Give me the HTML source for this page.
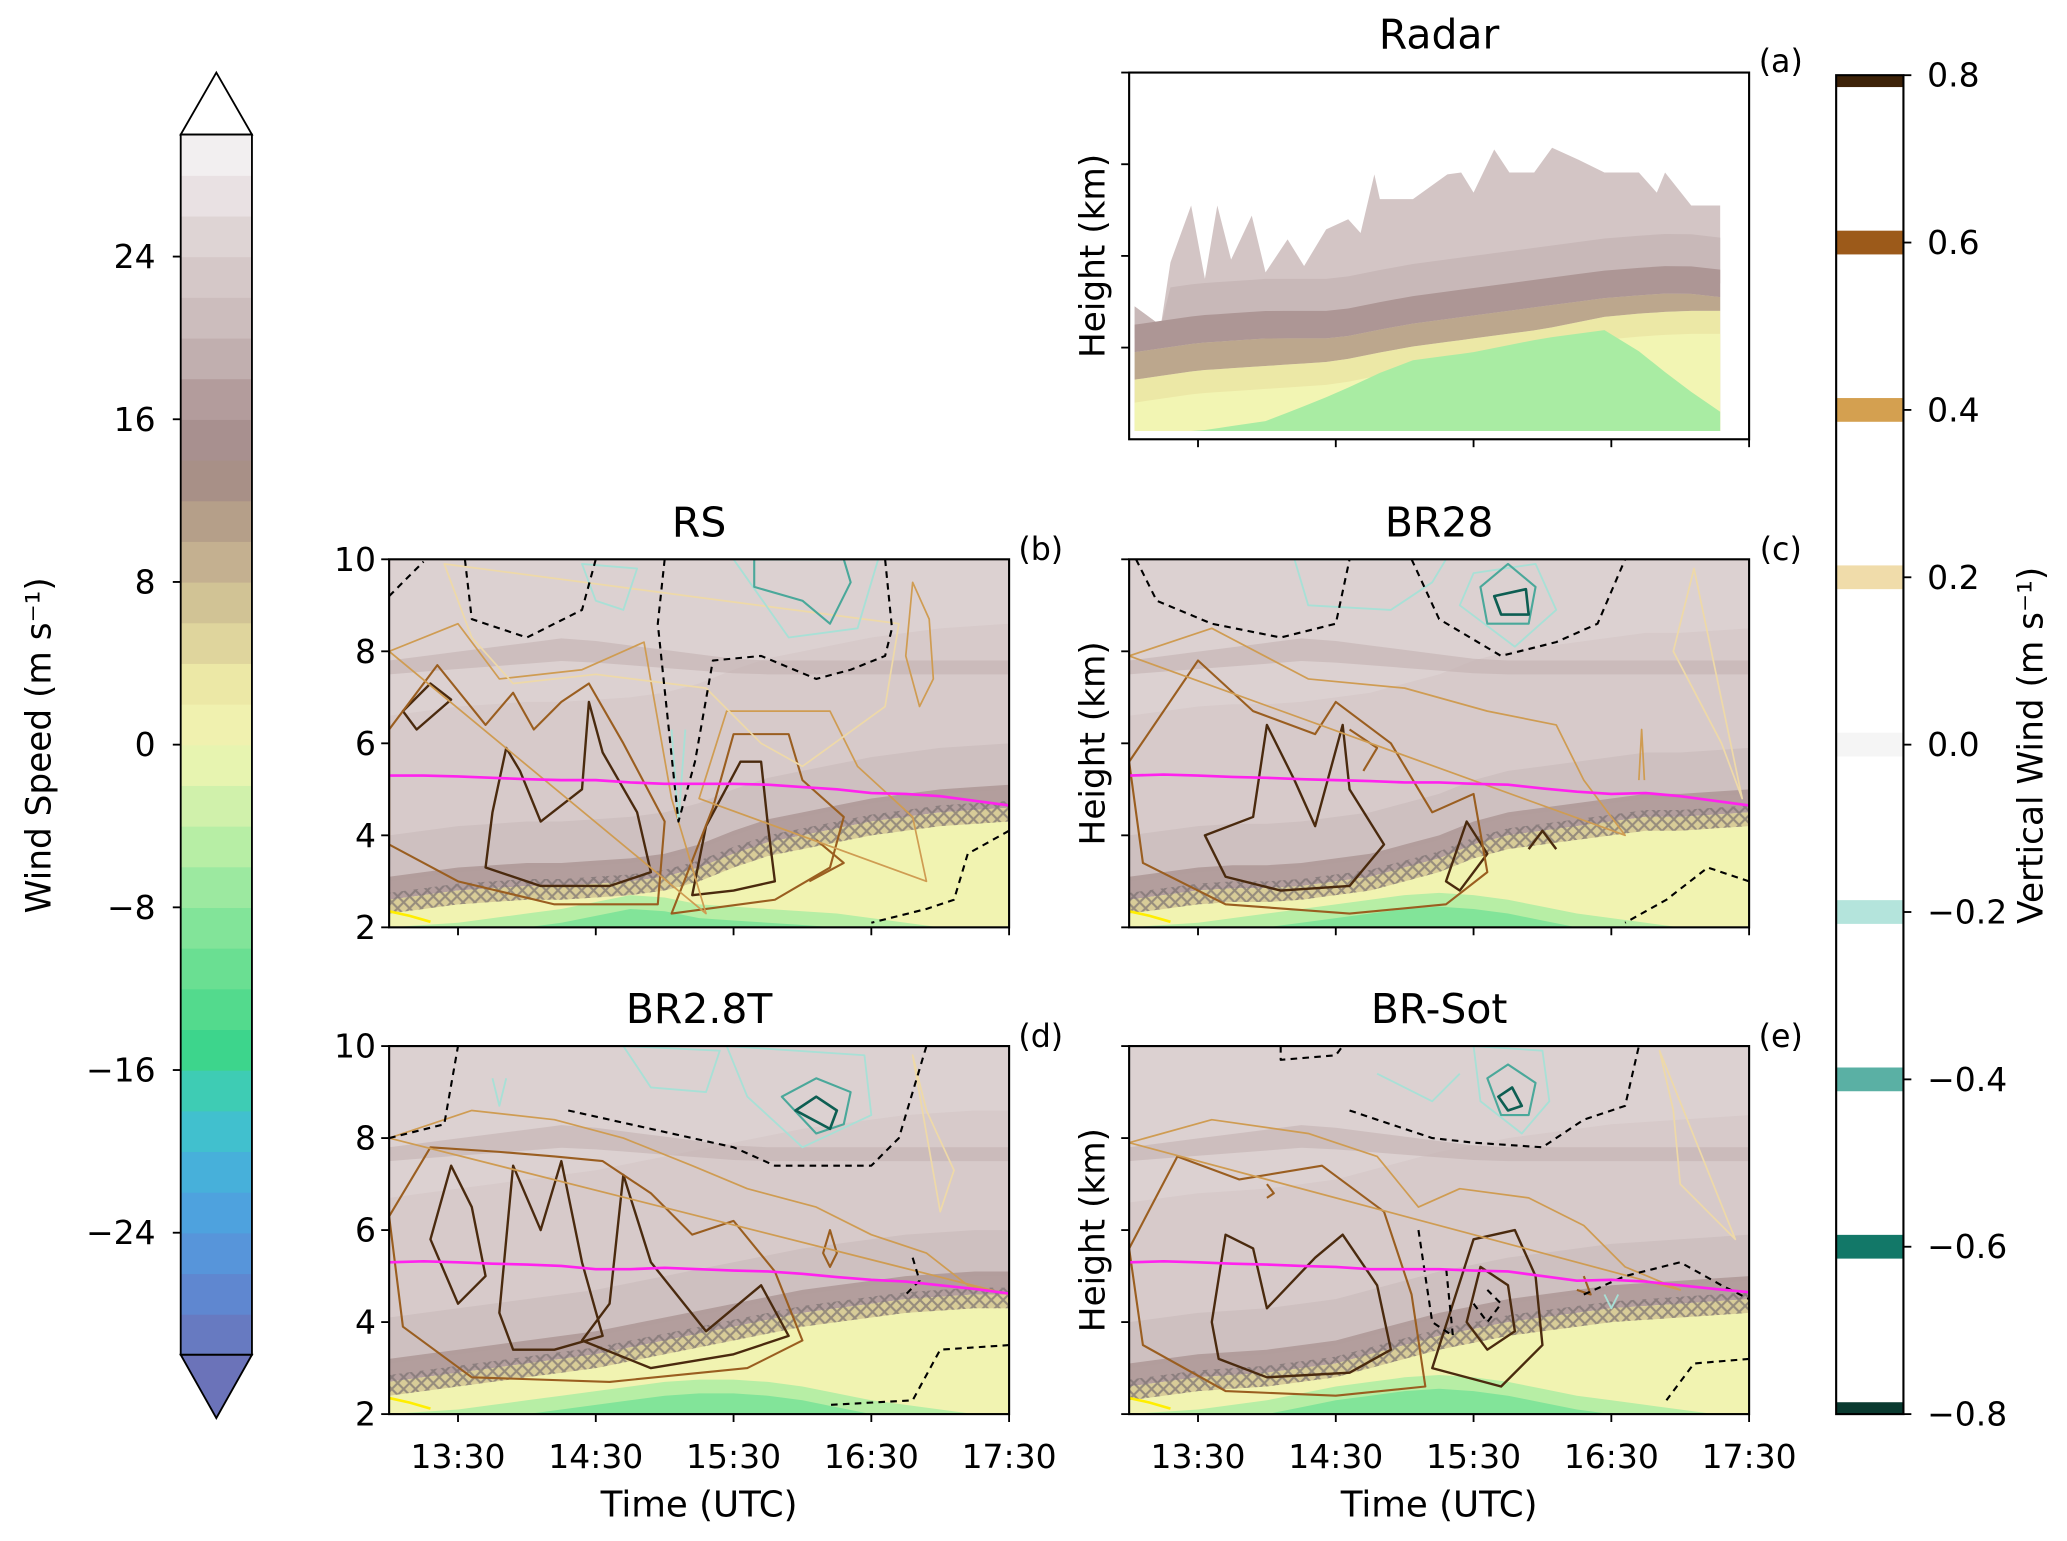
<!DOCTYPE html>
<html><head><meta charset="utf-8"><style>
html,body{margin:0;padding:0;background:#fff;}
svg{display:block;font-family:"DejaVu Sans","Liberation Sans",sans-serif;}
</style></head><body>
<svg id="fig" width="2067" height="1541" viewBox="0 0 1567 1168.2" preserveAspectRatio="none" xmlns="http://www.w3.org/2000/svg">
<defs>
<pattern id="xhatch" width="9" height="9" patternUnits="userSpaceOnUse">
<path d="M0,0 L9,9 M9,0 L0,9" stroke="#7a7070" stroke-width="1.6" opacity="0.7"/>
</pattern>
</defs>
</svg>
<script>
// ---------- data ----------
const times = [13,13.25,13.5,13.75,14,14.25,14.5,14.75,15,15.25,15.5,15.75,16,16.25,16.5,16.75,17,17.25,17.5];
const meltB = [2.6,2.7,2.8,2.85,2.9,2.9,2.95,3.0,3.1,3.3,3.6,3.85,4.0,4.15,4.3,4.4,4.5,4.55,4.6];
const meltC = [2.6,2.7,2.8,2.85,2.85,2.9,3.0,3.1,3.3,3.5,3.8,4.0,4.1,4.2,4.3,4.4,4.4,4.45,4.5];
const meltD = [2.7,2.8,2.9,3.0,3.1,3.2,3.3,3.45,3.6,3.75,3.9,4.05,4.2,4.3,4.4,4.5,4.55,4.6,4.6];
const meltE = [2.6,2.7,2.8,2.85,2.9,3.0,3.1,3.3,3.5,3.7,3.85,4.0,4.1,4.2,4.3,4.35,4.4,4.45,4.5];
const greenB = [2.0,2.05,2.1,2.2,2.3,2.4,2.55,2.7,2.65,2.5,2.45,2.4,2.35,2.3,2.2,2.1,2.0,2.0,2.0];
const greenC = [2.0,2.05,2.1,2.2,2.3,2.4,2.5,2.6,2.7,2.75,2.7,2.6,2.45,2.3,2.2,2.1,2.0,2.0,2.0];
const greenD = [2.0,2.05,2.1,2.2,2.3,2.4,2.5,2.6,2.7,2.75,2.75,2.7,2.6,2.45,2.3,2.2,2.1,2.0,2.0];
const greenE = [2.0,2.05,2.1,2.2,2.3,2.45,2.6,2.7,2.8,2.85,2.8,2.7,2.55,2.4,2.3,2.2,2.1,2.0,2.0];
const magB = [5.3,5.3,5.28,5.25,5.22,5.2,5.2,5.15,5.12,5.12,5.12,5.1,5.05,5.0,4.92,4.9,4.85,4.75,4.65];
const magC = [5.3,5.32,5.3,5.27,5.25,5.22,5.2,5.18,5.15,5.15,5.12,5.1,5.02,4.95,4.9,4.92,4.85,4.75,4.65];
const magD = [5.3,5.32,5.3,5.27,5.25,5.22,5.15,5.15,5.18,5.15,5.12,5.1,5.05,4.98,4.92,4.88,4.8,4.72,4.62];
const magE = [5.3,5.32,5.3,5.27,5.25,5.22,5.2,5.15,5.15,5.15,5.12,5.1,5.0,4.9,4.92,4.88,4.8,4.72,4.65];
const yellowLineT = [13.0,13.15,13.3];
const yellowLineH = [2.35,2.25,2.12];

const radarTimes = [13.04,13.23,13.3,13.45,13.55,13.64,13.74,13.89,13.99,14.15,14.27,14.43,14.59,14.68,14.78,14.82,15.06,15.31,15.41,15.5,15.65,15.76,15.94,16.07,16.26,16.45,16.7,16.83,16.89,17.08,17.29];
const echoTop = [1.45,1.24,1.93,2.55,1.75,2.55,1.96,2.44,1.82,2.18,1.89,2.29,2.4,2.25,2.89,2.62,2.62,2.89,2.91,2.69,3.16,2.91,2.91,3.18,3.05,2.91,2.91,2.69,2.91,2.55,2.55];
const radarBase = [13.04,13.5,14,14.5,15,15.5,16,16.5,17,17.29];
const radarBrown = [1.1,1.2,1.25,1.25,1.4,1.5,1.6,1.7,1.75,1.7];
const radarYellow = [0.65,0.75,0.8,0.85,1.0,1.1,1.2,1.35,1.4,1.4];
const radarGreen = [0.09,0.09,0.2,0.5,0.85,0.95,1.1,1.2,0.6,0.3];

const xTickVals = [13.5,14.5,15.5,16.5,17.5];
const xTickLabels = ["13:30","14:30","15:30","16:30","17:30"];
const yTickVals = [2,4,6,8,10];
const yTickLabels = ["2","4","6","8","10"];
const wsTickVals = [24,16,8,0,-8,-16,-24];
const wsTickLabels = ["24","16","8","0","\u22128","\u221216","\u221224"];
const vwTickVals = [0.8,0.6,0.4,0.2,0.0,-0.2,-0.4,-0.6,-0.8];
const vwTickLabels = ["0.8","0.6","0.4","0.2","0.0","\u22120.2","\u22120.4","\u22120.6","\u22120.8"];

// contours: [t,h] pairs
const contoursB = [
 {c:"dk",p:[[13.1,6.7],[13.3,7.3],[13.45,6.95],[13.2,6.3]]},
 {c:"dk",p:[[13.75,4.5],[13.85,5.9],[13.95,5.4],[14.1,4.3],[14.4,5.0],[14.45,6.9],[14.55,5.8],[14.8,4.5],[14.9,3.2],[14.6,2.9],[14.1,2.9],[13.7,3.3]]},
 {c:"dk",p:[[15.2,2.7],[15.3,4.2],[15.55,5.6],[15.7,5.6],[15.75,4.2],[15.8,3.0],[15.5,2.8]]},
 {c:"md",p:[[13.0,6.3],[13.35,7.7],[13.7,6.4],[13.9,7.1],[14.05,6.3],[14.25,6.9],[14.45,7.3],[14.7,6.0],[15.0,4.3],[14.95,2.5],[14.2,2.5],[13.5,3.0],[13.0,3.8]]},
 {c:"md",p:[[15.05,2.3],[15.35,4.6],[15.5,6.2],[15.9,6.2],[16.0,5.2],[16.3,4.4],[16.2,3.3],[15.8,2.6]]},
 {c:"md",p:[[16.1,3.9],[16.3,3.4],[16.05,3.0]]},
 {c:"lt",p:[[13.0,8.0],[13.5,8.6],[13.8,7.4],[14.4,7.6],[14.85,8.2],[15.05,4.8],[15.3,2.3]]},
 {c:"lt",p:[[15.25,4.8],[15.45,6.7],[16.2,6.7],[16.4,5.5],[16.8,4.4],[16.9,3.0]]},
 {c:"lt",p:[[16.8,9.5],[16.92,8.7],[16.95,7.4],[16.85,6.8],[16.75,7.9]]},
 {c:"xl",p:[[13.4,9.9],[13.6,8.3],[13.9,7.3],[14.5,7.5],[15.3,7.2],[15.7,6.0],[16.0,5.5],[16.6,6.8],[16.7,8.6]]},
 {c:"tl",p:[[14.4,9.9],[14.5,9.1],[14.7,8.9],[14.8,9.8]]},
 {c:"tl",p:[[15.5,10],[15.9,8.3],[16.4,8.5],[16.55,10]]},
 {c:"tm",p:[[15.65,10],[15.65,9.4],[16.0,9.1],[16.2,8.6],[16.35,9.5],[16.3,10]]},
 {c:"tl",p:[[15.05,6.3],[15.1,4.3],[15.15,6.3]]},
 {c:"da",p:[[13.0,9.2],[13.25,9.95]]},
 {c:"da",p:[[13.55,10],[13.6,8.7],[14.0,8.3],[14.4,8.9],[14.5,10]]},
 {c:"da",p:[[15.0,10],[14.95,8.6],[15.1,4.3],[15.22,5.6],[15.35,7.8],[15.7,7.9],[16.1,7.4],[16.35,7.6],[16.6,7.9],[16.65,8.5],[16.6,10]]},
 {c:"da",p:[[17.5,4.1],[17.2,3.6],[17.1,2.6],[16.9,2.4],[16.5,2.1]]}
];
const contoursC = [
 {c:"dk",p:[[13.9,4.4],[14.0,6.4],[14.2,5.2],[14.35,4.2],[14.55,6.4],[14.6,5.0],[14.85,3.8],[14.6,2.9],[14.1,2.8],[13.7,3.1],[13.55,4.0]]},
 {c:"dk",p:[[15.3,3.0],[15.45,4.3],[15.6,3.6],[15.4,2.8]]},
 {c:"dk",p:[[15.9,3.7],[16.0,4.1],[16.1,3.7]]},
 {c:"md",p:[[13.0,5.6],[13.5,7.8],[13.9,6.7],[14.35,6.2],[14.5,6.9],[14.9,6.0],[15.2,4.5],[15.5,4.9],[15.6,3.2],[15.3,2.5],[14.6,2.3],[13.7,2.5],[13.1,3.4]]},
 {c:"md",p:[[14.6,6.3],[14.8,5.9],[14.7,5.4]]},
 {c:"lt",p:[[13.0,7.9],[13.6,8.5],[14.3,7.4],[15.0,7.2],[15.6,6.7],[16.1,6.4],[16.3,5.2],[16.6,4.0]]},
 {c:"lt",p:[[16.7,5.2],[16.72,6.3],[16.74,5.2]]},
 {c:"xl",p:[[17.1,9.8],[16.95,8.0],[17.3,6.0],[17.45,4.8]]},
 {c:"tl",p:[[15.5,9.7],[15.4,9.0],[15.8,8.1],[16.1,8.9],[15.95,9.9]]},
 {c:"tl",p:[[14.2,10],[14.3,9.0],[14.9,8.9],[15.2,9.5],[15.3,10]]},
 {c:"tm",p:[[15.55,9.4],[15.6,8.6],[15.9,8.6],[15.95,9.4],[15.75,9.9]]},
 {c:"td",p:[[15.65,9.2],[15.7,8.8],[15.9,8.8],[15.88,9.35]]},
 {c:"da",p:[[13.05,10],[13.2,9.1],[13.6,8.6],[14.1,8.3],[14.5,8.6],[14.6,10]]},
 {c:"da",p:[[15.05,10],[15.25,8.7],[15.7,7.9],[16.1,8.2],[16.4,8.6],[16.6,10]]},
 {c:"da",p:[[17.5,3.0],[17.2,3.3],[16.9,2.6],[16.6,2.1]]}
];
const contoursD = [
 {c:"dk",p:[[13.3,5.8],[13.45,7.4],[13.6,6.5],[13.7,5.0],[13.5,4.4]]},
 {c:"dk",p:[[13.8,4.2],[13.9,7.4],[14.1,6.0],[14.25,7.5],[14.4,5.3],[14.55,3.7],[14.2,3.4],[13.9,3.4]]},
 {c:"dk",p:[[14.4,3.6],[14.6,4.4],[14.7,7.2],[14.9,5.3],[15.3,3.8],[15.7,4.8],[15.9,3.7],[15.5,3.3],[14.9,3.0]]},
 {c:"md",p:[[13.0,6.3],[13.3,7.8],[13.8,7.7],[14.2,7.6],[14.55,7.5],[14.9,6.8],[15.2,5.9],[15.5,6.2],[15.8,5.1],[16.0,3.6],[15.6,3.0],[14.6,2.7],[13.6,2.8],[13.1,3.9]]},
 {c:"md",p:[[16.2,6.0],[16.25,5.5],[16.2,5.2],[16.15,5.5]]},
 {c:"lt",p:[[13.0,8.0],[13.6,8.6],[14.2,8.4],[14.7,8.0],[15.2,7.4],[15.6,6.9],[16.1,6.5],[16.5,5.9],[16.9,5.5],[17.2,4.8],[17.5,4.6]]},
 {c:"xl",p:[[16.8,9.8],[16.9,8.6],[17.1,7.3],[17.0,6.4]]},
 {c:"tl",p:[[14.7,10],[14.9,9.1],[15.3,9.0],[15.4,9.9]]},
 {c:"tl",p:[[13.75,9.3],[13.8,8.7],[13.85,9.3]]},
 {c:"tm",p:[[15.85,8.9],[16.1,8.1],[16.3,8.3],[16.35,9.0],[16.1,9.3]]},
 {c:"td",p:[[15.95,8.6],[16.2,8.2],[16.25,8.6],[16.1,8.9]]},
 {c:"tl",p:[[15.45,10],[15.6,8.9],[16.0,7.8],[16.5,8.5],[16.45,9.8]]},
 {c:"da",p:[[13.0,8.0],[13.4,8.3],[13.5,10]]},
 {c:"da",p:[[14.3,8.6],[14.9,8.2],[15.5,7.8],[15.8,7.4],[16.1,7.4],[16.5,7.4],[16.7,8.0],[16.9,10]]},
 {c:"da",p:[[16.8,5.4],[16.85,4.9],[16.75,4.6]]},
 {c:"da",p:[[17.5,3.5],[17.0,3.4],[16.8,2.3],[16.2,2.2]]}
];
const contoursE = [
 {c:"dk",p:[[13.6,4.0],[13.7,5.9],[13.9,5.6],[14.0,4.3],[14.35,5.4],[14.55,5.9],[14.8,4.8],[14.9,3.4],[14.6,2.9],[14.0,2.8],[13.65,3.2]]},
 {c:"dk",p:[[15.45,4.0],[15.55,5.2],[15.75,4.8],[15.8,3.8],[15.6,3.4]]},
 {c:"dk",p:[[15.2,3.0],[15.5,5.8],[15.8,6.0],[15.95,5.0],[16.0,3.5],[15.7,2.6]]},
 {c:"md",p:[[13.0,5.6],[13.35,7.6],[13.8,7.1],[14.4,7.4],[14.85,6.4],[15.05,4.6],[15.15,2.6],[14.5,2.4],[13.7,2.5],[13.1,3.5]]},
 {c:"md",p:[[14.0,7.0],[14.05,6.8],[14.0,6.7]]},
 {c:"md",p:[[16.3,5.0],[16.35,4.6],[16.25,4.7]]},
 {c:"lt",p:[[13.0,7.9],[13.6,8.4],[14.3,8.1],[14.8,7.6],[15.1,6.5],[15.4,6.9],[15.9,6.7],[16.3,6.1],[16.6,5.2],[17.0,4.7]]},
 {c:"xl",p:[[16.85,9.9],[16.95,8.6],[17.0,7.0],[17.4,5.8]]},
 {c:"tl",p:[[14.8,9.4],[15.2,8.8],[15.4,9.4]]},
 {c:"tl",p:[[15.5,10],[15.55,8.8],[15.85,8.1],[16.05,8.8],[16.0,9.9]]},
 {c:"tm",p:[[15.6,9.3],[15.7,8.5],[15.9,8.5],[15.95,9.2],[15.75,9.6]]},
 {c:"td",p:[[15.68,8.9],[15.75,8.6],[15.85,8.7],[15.78,9.1]]},
 {c:"tl",p:[[16.45,4.6],[16.5,4.3],[16.55,4.6]]},
 {c:"da",p:[[14.1,10],[14.1,9.7],[14.5,9.8],[14.55,10]]},
 {c:"da",p:[[14.6,8.6],[15.2,8.0],[15.5,7.9],[16.0,7.8],[16.3,8.4],[16.6,8.7],[16.7,10]]},
 {c:"da",p:[[15.1,6.0],[15.2,4.0],[15.35,3.7],[15.3,5.2]]},
 {c:"da",p:[[15.5,4.4],[15.6,4.0],[15.7,4.4],[15.6,4.7]]},
 {c:"da",p:[[16.3,4.6],[16.6,5.0],[17.0,5.3],[17.3,4.8],[17.5,4.5]]},
 {c:"da",p:[[17.5,3.2],[17.1,3.1],[16.9,2.3]]}
];

// ---------- rendering ----------
const NS = "http://www.w3.org/2000/svg";
const svg = document.getElementById("fig");
function mk(tag, attrs, parent){ const e=document.createElementNS(NS,tag); for(const k in attrs) e.setAttribute(k,attrs[k]); (parent||svg).appendChild(e); return e; }
function txt(s, x, y, size, anchor, parent, name, rot){
  const t = mk("text",{x:x,y:y,"font-size":size,"text-anchor":anchor||"middle","dominant-baseline":"central",fill:"#000"},parent);
  if(rot) t.setAttribute("transform","rotate(-90 "+x+" "+y+")");
  t.textContent = s;
  
  
  return t;
}

function wsColor(v){
  const stops=[[-30,[107,115,185]],[-26,[91,142,216]],[-22,[74,168,224]],[-18,[62,200,200]],[-15,[61,213,140]],[-12,[94,220,142]],[-8,[142,231,157]],[-4,[196,240,168]],[0,[242,245,179]],[3,[236,232,166]],[6,[216,204,152]],[9,[196,176,144]],[12,[173,150,134]],[14,[162,138,136]],[17,[179,156,156]],[20,[200,184,184]],[24,[217,205,205]],[27,[233,225,227]],[30,[246,246,246]]];
  for(let i=0;i<stops.length-1;i++){ const a=stops[i],b=stops[i+1]; if(v<=b[0]){const f=(v-a[0])/(b[0]-a[0]); return "rgb("+a[1].map((c,j)=>Math.round(c+(b[1][j]-c)*f)).join(",")+")";} }
  return "rgb(246,246,246)";
}

function makeAxes(x0,x1,y0,y1,hmin,hmax){
  return { X:t=>x0+(t-13)/(4.5)*(x1-x0), Y:h=>y1-(h-hmin)/(hmax-hmin)*(y1-y0), x0:x0,x1:x1,y0:y0,y1:y1 };
}
function bandPath(ax, ts, lo, hi){
  let d="M"+ts.map((t,i)=>ax.X(t)+","+ax.Y(hi[i])).join(" L");
  for(let i=ts.length-1;i>=0;i--) d+=" L"+ax.X(ts[i])+","+ax.Y(lo[i]);
  return d+" Z";
}
function add(arr,k){ return arr.map(v=>v+k); }
function clampArr(arr,lo,hi){ return arr.map(v=>Math.max(lo,Math.min(hi,v))); }
const contourStyle = {dk:["#4a2a0e",1.8,null],md:["#9a5e20",1.6,null],lt:["#cf9c52",1.3,null],xl:["#eed9a8",1.3,null],tl:["#a8e0d6",1.4,null],tm:["#4aa89a",1.6,null],td:["#0d5e52",2,null],da:["#000",1.6,"5,4"]};

function panel(id, title, letter, ax, melt, green, mag, contours, showYLabels, showYTitle){
  const g = mk("g",{});
  
  
  const clip = mk("clipPath",{id:"clip"+id},g);
  mk("rect",{x:ax.x0,y:ax.y0,width:ax.x1-ax.x0,height:ax.y1-ax.y0},clip);
  const f = mk("g",{"clip-path":"url(#clip"+id+")"},g);
  
  
  mk("rect",{x:ax.x0,y:ax.y0,width:ax.x1-ax.x0,height:ax.y1-ax.y0,fill:wsColor(23.5)},f);
  const top = times.map(()=>10.5);
  mk("path",{d:bandPath(ax,times,add(melt,4.0),top),fill:wsColor(25),opacity:0.7},f);
  mk("path",{d:bandPath(ax,times,times.map(t=>7.5+0.3*Math.max(0,1-Math.abs(t-14.3)/1.3)),times.map(t=>7.8+0.5*Math.max(0,1-Math.abs(t-14.3)/1.3))),fill:wsColor(19),opacity:0.55},f);
  mk("path",{d:bandPath(ax,times,add(melt,0.4),add(melt,1.4)),fill:wsColor(21),opacity:0.8},f);
  mk("path",{d:bandPath(ax,times,melt,add(melt,0.5)),fill:wsColor(16),opacity:0.85},f);
  const bot = times.map(()=>1.8);
  mk("path",{d:bandPath(ax,times,bot,melt),fill:wsColor(0.5)},f);
  mk("path",{d:bandPath(ax,times,add(melt,-0.3),melt),fill:wsColor(6)},f);
  mk("path",{d:bandPath(ax,times,bot,green),fill:wsColor(-5)},f);
  mk("path",{d:bandPath(ax,times,bot,clampArr(add(green,-0.3),1.8,10)),fill:wsColor(-9)},f);
  const h = mk("path",{d:bandPath(ax,times,add(melt,-0.3),add(melt,0.15)),fill:"url(#xhatch)"},f);
  
  
  contours.forEach((c,i)=>{
    const st = contourStyle[c.c];
    const closed = c.p.length>3 && c.c!=="da";
    let d="M"+c.p.map(p=>ax.X(p[0])+","+ax.Y(p[1])).join(" L")+(closed?" Z":"");
    const e = mk("path",{d:d,fill:"none",stroke:st[0],"stroke-width":st[1],"stroke-linejoin":"round"},f);
    if(st[2]) e.setAttribute("stroke-dasharray",st[2]);
    
    
  });
  const ml = mk("path",{d:"M"+times.map((t,i)=>ax.X(t)+","+ax.Y(mag[i])).join(" L"),fill:"none",stroke:"#ff22ee","stroke-width":2},f);
  
  
  const yl = mk("path",{d:"M"+yellowLineT.map((t,i)=>ax.X(t)+","+ax.Y(yellowLineH[i])).join(" L"),fill:"none",stroke:"#ffee00","stroke-width":2},f);
  
  
  frame(ax, id);
  yTicks(ax, yTickVals, showYLabels?yTickLabels:null, id);
  xTicks(ax, id);
  txt(title, (ax.x0+ax.x1)/2, ax.y0-28, 31, "middle", null, "title-"+id);
  txt(letter, ax.x1+24, ax.y0-7, 24, "middle", null, "panel-label-"+id);
  if(showYTitle) txt("Height (km)", ax.x0-27, (ax.y0+ax.y1)/2, 26, "middle", null, "y-axis-title-"+id, true);
}
function frame(ax,id){
  const r = mk("rect",{x:ax.x0,y:ax.y0,width:ax.x1-ax.x0,height:ax.y1-ax.y0,fill:"none",stroke:"#000","stroke-width":1.6});
  
  
}
function yTicks(ax, vals, labels, id){
  vals.forEach((v,i)=>{
    const y=ax.Y(v);
    mk("line",{x1:ax.x0-6,x2:ax.x0,y1:y,y2:y,stroke:"#000","stroke-width":1.4});
    if(labels) txt(labels[i], ax.x0-10, y, 25, "end", null, "y-tick-label-"+id);
  });
}
function xTicks(ax, id, noLabels){
  xTickVals.forEach((v,i)=>{
    const x=ax.X(v);
    mk("line",{x1:x,x2:x,y1:ax.y1,y2:ax.y1+6,stroke:"#000","stroke-width":1.4});
    if(!noLabels && (id==="d"||id==="e")) txt(xTickLabels[i], x, ax.y1+32, 25, "middle", null, "x-tick-label-"+id);
  });
  if(!noLabels && (id==="d"||id==="e")) txt("Time (UTC)", (ax.x0+ax.x1)/2, ax.y1+69, 27, "middle", null, "x-axis-title-"+id);
}

// panels b-e
panel("b","RS","(b)",makeAxes(295,765,424,703,2,10),meltB,greenB,magB,contoursB,true,false);
panel("c","BR28","(c)",makeAxes(856,1326,424,703,2,10),meltC,greenC,magC,contoursC,false,true);
panel("d","BR2.8T","(d)",makeAxes(295,765,793,1072,2,10),meltD,greenD,magD,contoursD,true,false);
panel("e","BR-Sot","(e)",makeAxes(856,1326,793,1072,2,10),meltE,greenE,magE,contoursE,false,true);

// radar panel (a)
(function(){
  const ax = makeAxes(856,1326,55,333,0,4);
  const g = mk("g",{});
  
  
  const rb = radarBase;
  const base = radarTimes.map(()=>0.09);
  const interp=(arr,t)=>{for(let i=0;i<rb.length-1;i++){ if(t<=rb[i+1]){const f=(t-rb[i])/(rb[i+1]-rb[i]); return arr[i]+(arr[i+1]-arr[i])*f;} } return arr[arr.length-1];};
  const brown = radarTimes.map(t=>interp(radarBrown,t));
  const yel = radarTimes.map(t=>interp(radarYellow,t));
  const grn = radarTimes.map(t=>interp(radarGreen,t));
  const e1 = mk("path",{d:bandPath(ax,radarTimes,base,echoTop),fill:wsColor(22.5)},g);
  
  
  mk("path",{d:bandPath(ax,radarTimes,brown,radarTimes.map((t,i)=>Math.min(echoTop[i],brown[i]+0.5))),fill:wsColor(20)},g);
  mk("path",{d:bandPath(ax,radarTimes,add(brown,-0.15),add(brown,0.15)),fill:wsColor(16)},g);
  mk("path",{d:bandPath(ax,radarTimes,yel,add(brown,-0.15)),fill:wsColor(10)},g);
  mk("path",{d:bandPath(ax,radarTimes,base,yel),fill:wsColor(3)},g);
  mk("path",{d:bandPath(ax,radarTimes,base,add(yel,-0.25)),fill:wsColor(0)},g);
  const gr = mk("path",{d:bandPath(ax,radarTimes,base,grn),fill:wsColor(-6)},g);
  
  
  frame(ax,"a");
  yTicks(ax,[1,2,3,4],null,"a");
  xTicks(ax,"a",true);
  txt("Radar",1091,26,31,"middle",null,"title-a");
  txt("(a)",1350,47,24,"middle",null,"panel-label-a");
  txt("Height (km)",829,194,26,"middle",null,"y-axis-title-a",true);
})();

// left colorbar (wind speed)
(function(){
  const x0=137,x1=191,yt=102,yb=1027;
  const Y=v=>yb-(v+30)/60*(yb-yt);
  const g=mk("g",{});
  
  
  for(let v=-30;v<30;v+=2){
    mk("rect",{x:x0,y:Y(v+2),width:x1-x0,height:Y(v)-Y(v+2)+0.5,fill:wsColor(v+1)},g);
  }
  mk("polygon",{points:x0+","+yt+" "+x1+","+yt+" 164,55",fill:"#fff",stroke:"#000","stroke-width":1.4},g);
  mk("polygon",{points:x0+","+yb+" "+x1+","+yb+" 164,1075",fill:wsColor(-30),stroke:"#000","stroke-width":1.4},g);
  mk("rect",{x:x0,y:yt,width:x1-x0,height:yb-yt,fill:"none",stroke:"#000","stroke-width":1.4},g);
  wsTickVals.forEach((v,i)=>{
    mk("line",{x1:x0-6,x2:x0,y1:Y(v),y2:Y(v),stroke:"#000","stroke-width":1.4},g);
    txt(wsTickLabels[i],x0-19,Y(v),25,"end",g,"wind-speed-tick-label");
  });
  txt("Wind Speed (m s\u207B\u00B9)",30,565,26,"middle",null,"wind-speed-colorbar-title",true);
})();

// right colorbar (vertical wind)
(function(){
  const x0=1392,x1=1443,yt=57,yb=1072;
  const Y=v=>yb-(v+0.8)/1.6*(yb-yt);
  const cols=["#3d2208","#9c5a1a","#d4a050","#f0dcaa","#f5f5f5","#b4e4dc","#5ab0a4","#127868","#0a3a30"];
  const g=mk("g",{});
  
  
  mk("rect",{x:x0,y:yt,width:x1-x0,height:yb-yt,fill:"#fff"},g);
  vwTickVals.forEach((v,i)=>{
    const y=Y(v);
    const y0=Math.max(yt,y-9), y1=Math.min(yb,y+9);
    mk("rect",{x:x0,y:y0,width:x1-x0,height:y1-y0,fill:cols[i]},g);
    mk("line",{x1:x1,x2:x1+6,y1:y,y2:y,stroke:"#000","stroke-width":1.4},g);
    txt(vwTickLabels[i],x1+18,y,25,"start",g,"vertical-wind-tick-label");
  });
  mk("rect",{x:x0,y:yt,width:x1-x0,height:yb-yt,fill:"none",stroke:"#000","stroke-width":1.6},g);
  txt("Vertical Wind (m s\u207B\u00B9)",1540,565,26,"middle",null,"vertical-wind-colorbar-title",true);
})();
</script>
</body></html>
